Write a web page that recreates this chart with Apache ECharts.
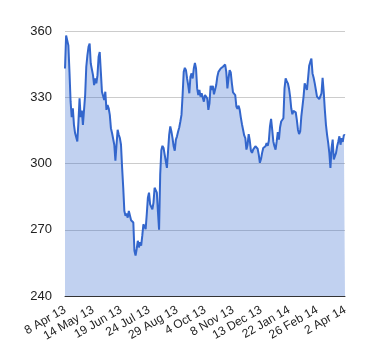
<!DOCTYPE html>
<html>
<head>
<meta charset="utf-8">
<script src="https://cdn.jsdelivr.net/npm/echarts@6/dist/echarts.min.js"></script>
<style>html,body{margin:0;padding:0;background:#fff;}#c{width:380px;height:360px;}</style>
</head>
<body>
<div id="c"></div>
<script>
var tickLabels = ["8 Apr 13","14 May 13","19 Jun 13","24 Jul 13","29 Aug 13","4 Oct 13","8 Nov 13","13 Dec 13","22 Jan 14","26 Feb 14","2 Apr 14"];
var labelEvery = 25;
var prices = [
343,358,357.7,353.5,341.5,328,321,325,317.5,313.8,313,310,319,329.5,321,324,317.5,316.8,331,343.8,
349,352.8,354.3,345.3,344.5,340,335.5,338.5,336.3,340,348.3,350.5,341.5,332.5,332.5,328.8,332.5,324.3,326.5,325,
322,316,313.8,314.5,308.5,301.3,308.5,315.3,313,311.5,308.5,298,289,278.5,276.3,277.3,275.5,278.5,277.8,274.3,
274.8,273.3,260.5,258.3,261.3,265,262,264.3,262.8,267.3,272.5,273.3,270.3,277,284.5,286.8,281.5,281.2,279.3,282.3,
289,289.3,286.8,278,270,295,306,308,307,304,301,298,305.5,313,316.8,314.5,311.5,307.8,305.8,310.8,
312.3,314.5,316.3,319,322,331,341.5,343.3,342.3,338.5,335.5,331.8,339.3,340.8,338.5,343,345.5,343,334,331,
333.3,330.3,331.8,331,328,331,331.5,329.5,324.3,327.3,335.2,333.3,335.2,331.3,331.8,335.5,339.3,341.5,341,343,
342.3,343.8,343.3,344.8,341.5,334,338.5,342.3,341.2,336.3,332.2,331.3,331,325.8,324.7,326.2,324.3,320.8,317.8,315.3,
312.7,311.5,306.3,308.5,313.3,310.3,305.8,304.8,306.3,307,307.8,308.2,306.7,304,300.3,302,304.8,307,307.5,307.8,
309.3,308,310.3,316.8,320.2,315.3,310,307.8,306.3,310,314.2,310.8,316.3,319,318.6,320.5,334,338.5,337.3,336.3,
334,330.3,325,322.3,323.8,323.5,323.2,319.8,315.3,313.3,314.5,321.3,325.8,330.3,336.3,335.8,333.3,338.5,344.2,346,
347.5,340.8,338.8,336.3,333.3,330.3,329.5,329.2,328.8,331.8,338.8,332.5,324.3,317.5,313,309.3,304.8,298,307,310.8,
301.8,302,304.8,307.8,310,312.3,308.5,311.5,309.8,313,312.7
];
var categories = prices.map(function(_, i){ return i; });

var chart = echarts.init(document.getElementById('c'), null, {renderer:'canvas'});
chart.setOption({
  animation: false,
  backgroundColor: '#fff',
  grid: {left: 65, right: 35, top: 31, bottom: 64, containLabel: false},
  xAxis: {
    type: 'category',
    data: categories,
    boundaryGap: false,
    axisLine: {show: true, lineStyle: {color: '#333', width: 1}},
    axisTick: {show: false},
    splitLine: {show: false},
    axisLabel: {
      interval: function(i){ return i % labelEvery === 0; },
      formatter: function(v, i){ return tickLabels[i / labelEvery] || ''; },
      rotate: 30,
      margin: 13,
      color: '#222',
      fontFamily: 'Liberation Sans, Arial, sans-serif',
      fontSize: 12
    }
  },
  yAxis: {
    type: 'value',
    min: 240, max: 360, interval: 30,
    axisLine: {show: false},
    axisTick: {show: false},
    splitLine: {show: true, lineStyle: {color: '#ccc', width: 1}},
    axisLabel: {
      margin: 13,
      color: '#222',
      fontFamily: 'Liberation Sans, Arial, sans-serif',
      fontSize: 13
    }
  },
  series: [{
    type: 'line',
    data: prices,
    symbol: 'none',
    smooth: false,
    lineStyle: {color: '#3366cc', width: 2},
    itemStyle: {color: '#3366cc'},
    areaStyle: {color: '#3366cc', opacity: 0.3}
  }]
});
</script>
</body>
</html>
